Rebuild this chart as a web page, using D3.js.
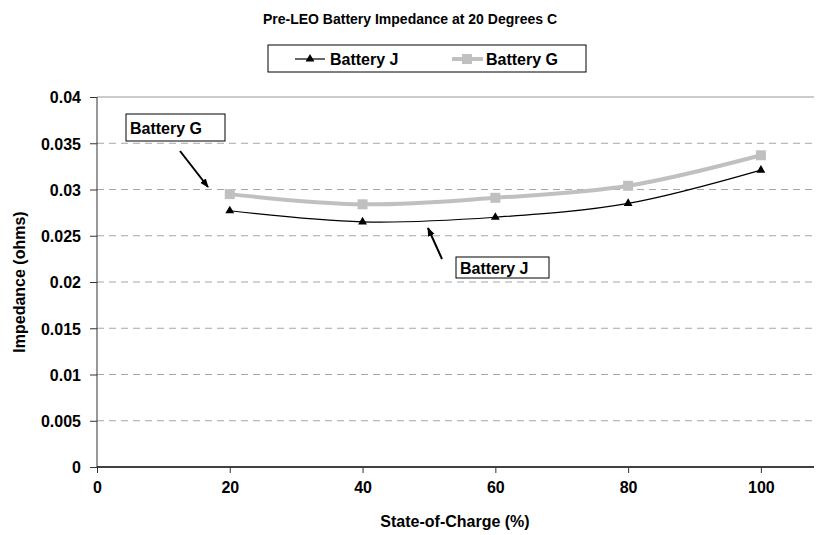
<!DOCTYPE html>
<html>
<head>
	<title>Pre-LEO Battery Impedance</title>
	<style type="text/css">
		body {
			margin: 0;
			background: white;
		}
		#chart text {
			font-family: "Liberation Sans", Arial, sans-serif;
			font-weight: bold;
			fill: black;
		}
		.tick-lbl { font-size: 16px; }
		.axis-title { font-size: 16px; }
		.legend-txt { font-size: 16px; }
		.note-txt { font-size: 16px; }
	</style>
</head>
<body>
<svg id="chart"></svg>

<script type="text/javascript" src="https://d3js.org/d3.v7.min.js"></script>
<script type="text/javascript">
	// data
	var soc = [20, 40, 60, 80, 100];
	var batteryJ = [0.0277, 0.0265, 0.0270, 0.0285, 0.0321];
	var batteryG = [0.0295, 0.0284, 0.0291, 0.0304, 0.0337];
	var xTicks = [0, 20, 40, 60, 80, 100];
	var yTicks = [0, 0.005, 0.01, 0.015, 0.02, 0.025, 0.03, 0.035, 0.04];
	var yTickLabels = ["0", "0.005", "0.01", "0.015", "0.02", "0.025", "0.03", "0.035", "0.04"];

	var W = 817, H = 535;
	var margin = {top: 97, bottom: 68, left: 97, right: 3};

	var svg = d3.select("#chart")
		.attr("width", W)
		.attr("height", H);

	var x = d3.scaleLinear().domain([0, 108]).range([margin.left, W - margin.right]);
	var y = d3.scaleLinear().domain([0, 0.04]).range([H - margin.bottom, margin.top]);

	var defs = svg.append("defs");
	defs.append("marker")
		.attr("id", "arrow")
		.attr("viewBox", "0 0 10 10")
		.attr("refX", 9).attr("refY", 5)
		.attr("markerWidth", 9).attr("markerHeight", 9)
		.attr("markerUnits", "userSpaceOnUse")
		.attr("orient", "auto")
	  .append("path")
		.attr("d", "M0,1 L10,5 L0,9 Z")
		.attr("fill", "black");

	// gridlines
	svg.selectAll(".grid")
		.data(yTicks.filter(d => d > 0 && d < 0.04))
		.enter().append("line")
		.attr("class", "grid")
		.attr("x1", x(0)).attr("x2", x(108))
		.attr("y1", d => y(d)).attr("y2", d => y(d))
		.attr("stroke", "#a6a6a6")
		.attr("stroke-dasharray", "7,5");

	// top border
	svg.append("line")
		.attr("x1", x(0)).attr("x2", x(108))
		.attr("y1", y(0.04)).attr("y2", y(0.04))
		.attr("stroke", "#999");

	// y axis
	var yAxis = svg.append("g")
		.attr("transform", `translate(${x(0)},0)`)
		.call(d3.axisLeft(y).tickValues(yTicks).tickSize(7).tickFormat((d, i) => yTickLabels[i]));
	yAxis.select(".domain").attr("stroke", "#333").attr("d", `M0,${y(0)}V${y(0.04)}`);
	yAxis.selectAll(".tick line").attr("stroke", "#333");
	yAxis.selectAll(".tick text")
		.attr("class", "tick-lbl")
		.attr("x", -16)
		.attr("dy", "0.36em");

	// x axis
	var xAxis = svg.append("g")
		.attr("transform", `translate(0,${y(0)})`)
		.call(d3.axisBottom(x).tickValues(xTicks).tickSize(6));
	xAxis.select(".domain").attr("stroke", "black").attr("stroke-width", 1.5).attr("d", `M${x(0)},0H${x(108)}`);
	xAxis.selectAll(".tick line").attr("stroke", "#333");
	xAxis.selectAll(".tick text")
		.attr("class", "tick-lbl")
		.attr("y", 20)
		.attr("dy", "0.36em");

	// titles
	svg.append("text")
		.attr("x", 410).attr("y", 24)
		.attr("text-anchor", "middle")
		.style("font-size", "14px")
		.text("Pre-LEO Battery Impedance at 20 Degrees C");

	svg.append("text")
		.attr("class", "axis-title")
		.attr("text-anchor", "middle")
		.attr("transform", "translate(25,282) rotate(-90)")
		.text("Impedance (ohms)");

	svg.append("text")
		.attr("class", "axis-title")
		.attr("text-anchor", "middle")
		.attr("x", 455).attr("y", 527)
		.text("State-of-Charge (%)");

	// series
	var line = d3.line()
		.x(d => x(d[0]))
		.y(d => y(d[1]))
		.curve(d3.curveCardinal.tension(0));

	var gData = soc.map((s, i) => [s, batteryG[i]]);
	var jData = soc.map((s, i) => [s, batteryJ[i]]);

	svg.append("path")
		.datum(gData)
		.attr("d", line)
		.attr("fill", "none")
		.attr("stroke", "#c0c0c0")
		.attr("stroke-width", 4);

	svg.selectAll(".g-pt")
		.data(gData)
		.enter().append("rect")
		.attr("class", "g-pt")
		.attr("x", d => x(d[0]) - 5)
		.attr("y", d => y(d[1]) - 5)
		.attr("width", 10).attr("height", 10)
		.attr("fill", "#c0c0c0");

	svg.append("path")
		.datum(jData)
		.attr("d", line)
		.attr("fill", "none")
		.attr("stroke", "black")
		.attr("stroke-width", 1.2);

	var tri = d3.symbol().type(d3.symbolTriangle).size(34);
	svg.selectAll(".j-pt")
		.data(jData)
		.enter().append("path")
		.attr("class", "j-pt")
		.attr("transform", d => `translate(${x(d[0])},${y(d[1])})`)
		.attr("d", tri)
		.attr("fill", "black");

	// legend
	var legend = svg.append("g");
	legend.append("rect")
		.attr("x", 268).attr("y", 45)
		.attr("width", 318).attr("height", 27)
		.attr("fill", "white")
		.attr("stroke", "black");

	legend.append("line")
		.attr("x1", 295).attr("x2", 325).attr("y1", 59).attr("y2", 59)
		.attr("stroke", "black").attr("stroke-width", 1.2);
	legend.append("path")
		.attr("transform", "translate(310,59)")
		.attr("d", tri)
		.attr("fill", "black");
	legend.append("text")
		.attr("class", "legend-txt")
		.attr("x", 330).attr("y", 65)
		.text("Battery J");

	legend.append("line")
		.attr("x1", 452).attr("x2", 483).attr("y1", 59).attr("y2", 59)
		.attr("stroke", "#c0c0c0").attr("stroke-width", 4);
	legend.append("rect")
		.attr("x", 462).attr("y", 54)
		.attr("width", 10).attr("height", 10)
		.attr("fill", "#c0c0c0");
	legend.append("text")
		.attr("class", "legend-txt")
		.attr("x", 486).attr("y", 65)
		.text("Battery G");

	// call-out notes
	var notes = [
		{label: "Battery G", bx: 126, by: 114, bw: 99, bh: 27, from: [180, 151], to: [208, 187]},
		{label: "Battery J", bx: 456, by: 257, bw: 93, bh: 21, from: [442, 259], to: [428, 228]}
	];

	notes.forEach(n => {
		svg.append("rect")
			.attr("x", n.bx).attr("y", n.by)
			.attr("width", n.bw).attr("height", n.bh)
			.attr("fill", "white")
			.attr("stroke", "black");
		svg.append("text")
			.attr("class", "note-txt")
			.attr("x", n.bx + 4).attr("y", n.by + n.bh / 2 + 6)
			.text(n.label);
		svg.append("line")
			.attr("x1", n.from[0]).attr("y1", n.from[1])
			.attr("x2", n.to[0]).attr("y2", n.to[1])
			.attr("stroke", "black")
			.attr("stroke-width", 2)
			.attr("marker-end", "url(#arrow)");
	});
</script>
</body>
</html>
